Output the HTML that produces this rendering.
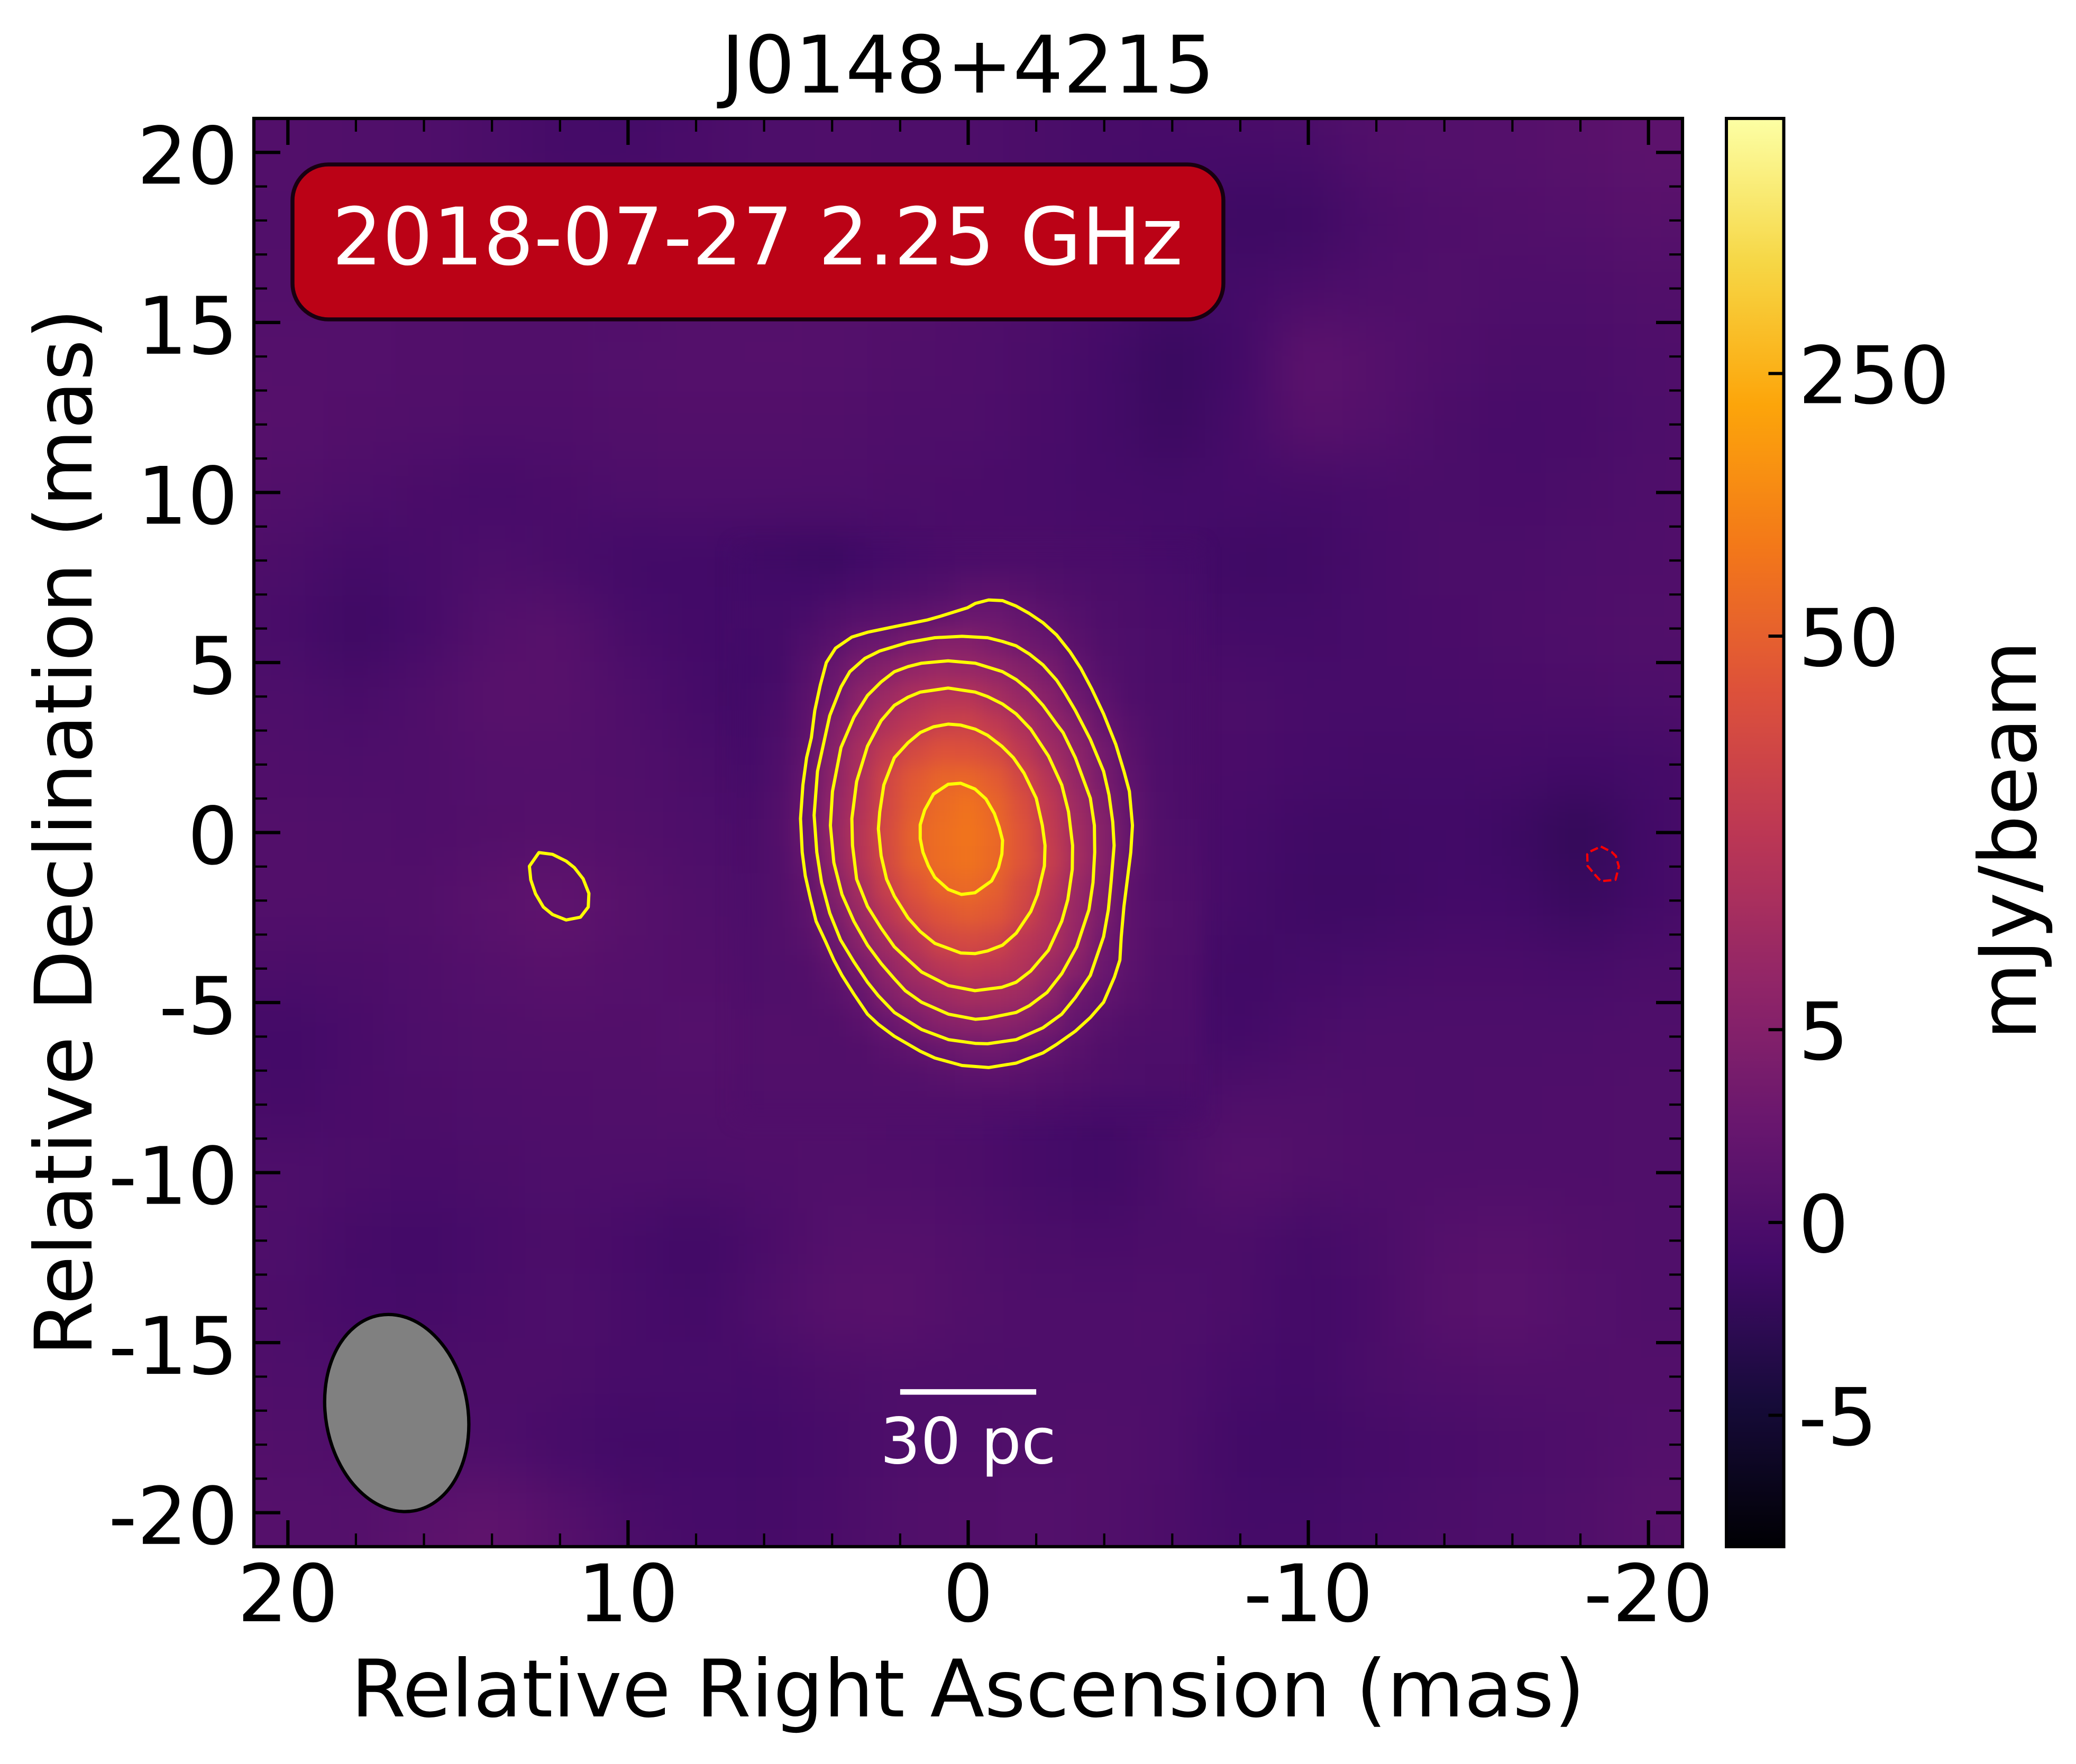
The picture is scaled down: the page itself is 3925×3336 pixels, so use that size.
<!DOCTYPE html>
<html>
<head>
<meta charset="utf-8">
<title>J0148+4215</title>
<style>
html,body{margin:0;padding:0;background:#fff;width:3925px;height:3336px;overflow:hidden}
svg{display:block}
text{font-family:"DejaVu Sans","Liberation Sans",sans-serif;fill:#000}
</style>
</head>
<body>
<svg id="chart" xmlns="http://www.w3.org/2000/svg" width="3925" height="3336" viewBox="0 0 3925 3336">
<defs>
<filter id="blurWide" color-interpolation-filters="sRGB" filterUnits="userSpaceOnUse" x="0" y="0" width="3925" height="3336"><feGaussianBlur stdDeviation="52"/></filter>
<filter id="blurNarrow" color-interpolation-filters="sRGB" filterUnits="userSpaceOnUse" x="0" y="0" width="3925" height="3336"><feGaussianBlur stdDeviation="17"/></filter>
<clipPath id="axesClip"><rect x="480" y="224" width="2701" height="2701"/></clipPath>
<linearGradient id="cbarGradient" x1="0" y1="1" x2="0" y2="0"></linearGradient>
</defs>
<g id="imageLayer" clip-path="url(#axesClip)"></g>
<g id="contourLayer"></g>
<ellipse id="beam" fill="#808080" stroke="#000" stroke-width="6.25"></ellipse>
<line id="scaleBar" stroke="#fff" stroke-width="10.5"></line>
<text id="scaleText" text-anchor="middle" font-size="120" style="fill:#fff">30 pc</text>
<rect x="553" y="311" width="1760" height="293" rx="68" ry="68" fill="#bb0216" stroke="#180010" stroke-width="7.5"></rect>
<text x="1432" y="500" text-anchor="middle" font-size="150" style="fill:#fff">2018-07-27 2.25 GHz</text>
<g id="tickLayer"></g>
<rect x="480" y="224" width="2701" height="2701" fill="none" stroke="#000" stroke-width="6.25"></rect>
<text x="1830" y="175" text-anchor="middle" font-size="150">J0148+4215</text>
<text x="1830" y="3246" text-anchor="middle" font-size="150">Relative Right Ascension (mas)</text>
<text x="0" y="0" transform="translate(173,1574) rotate(-90)" text-anchor="middle" font-size="150">Relative Declination (mas)</text>
<g id="cbarLayer"></g>
<text x="0" y="0" transform="translate(3849,1589) rotate(-90)" text-anchor="middle" font-size="150">mJy/beam</text>
</svg>
<script>
// ---- axis ticks (mas) ----
const xMajorTicks = [20, 10, 0, -10, -20];
const xMajorLabels = ["20", "10", "0", "-10", "-20"];
const xMinorTicks = [18,16,14,12,8,6,4,2,-2,-4,-6,-8,-12,-14,-16,-18];
const yMajorTicks = [20, 15, 10, 5, 0, -5, -10, -15, -20];
const yMajorLabels = ["20", "15", "10", "5", "0", "-5", "-10", "-15", "-20"];
const yMinorTicks = [19,18,17,16,14,13,12,11,9,8,7,6,4,3,2,1,-1,-2,-3,-4,-6,-7,-8,-9,-11,-12,-13,-14,-16,-17,-18,-19];
// ---- colorbar ticks (mJy/beam) ----
const cbarTickValues = [-5, 0, 5, 50, 250];
const cbarTickLabels = ["-5", "0", "5", "50", "250"];
// ---- inferno colormap anchors ----
const infernoStops = [[0,0,4],[22,11,57],[66,10,104],[106,23,110],[147,38,103],[188,55,84],[221,81,58],[243,120,25],[252,165,10],[246,215,70],[252,255,164]];
// ---- background map, mJy/beam; RA 22..-22, Dec 22..-22, in steps of 2 mas ----
const fieldRa = [22,20,18,16,14,12,10,8,6,4,2,0,-2,-4,-6,-8,-10,-12,-14,-16,-18,-20,-22];
const fieldDec = [22,20,18,16,14,12,10,8,6,4,2,0,-2,-4,-6,-8,-10,-12,-14,-16,-18,-20,-22];
const fieldValues = [
[.5,.4,.3,.2,-.3,-.8,-.9,-.4,0,.1,.1,0,-.2,-.4,-.3,0,.3,.6,.7,.8,1,1.3,1.2],
[.6,.5,.3,.2,-.2,-.7,-.7,-.3,0,.2,.1,.1,-.2,-.5,-.6,-.6,-.5,.4,.6,.7,1,1.4,1.3],
[.5,.4,.4,.3,.1,-.2,-.3,0,.2,.3,.3,.3,-.1,-.3,-.6,-1.5,-1.3,-.3,.2,.4,.6,.9,.8],
[.6,.5,.5,.5,.4,.3,.2,.4,.6,.7,.6,.3,0,-.3,-.9,-.8,-.3,.1,.3,.1,.1,.4,.5],
[.8,.7,.6,.5,.4,.4,.6,.8,.8,.7,.4,.2,-.2,-.8,-1.8,-1,1.6,.8,.2,-.2,-.2,.1,.3],
[.9,.8,.5,.3,.2,.2,.4,.5,.5,.4,.1,.1,-.3,-.8,-1.6,-.6,1,.6,-.2,-.5,-.4,0,.2],
[.6,.4,0,-.3,-.6,-.3,0,.1,.1,.1,-.1,-.3,-.5,-.7,-.8,-.6,-.8,-.4,-.2,-.4,-.2,.1,.3],
[.2,-.2,-.8,-.5,0,-.4,-1,-1,-1.2,-1.4,-.6,-.2,-.1,-.3,-.7,-1.3,-1.2,-.5,-.2,-.2,0,.2,.4],
[0,-.5,-1.4,-.6,.6,.9,-.4,-.9,-.8,-.6,0,.3,.3,0,-.4,-.8,-.8,-.5,-.3,-.1,.2,.4,.5],
[.2,0,-.4,.2,1,.9,.2,-.6,-1.3,-1.3,-.6,0,0,0,-.2,-.2,-.5,-.5,-.4,-.3,-.2,0,.2],
[.5,.2,0,.2,.6,.6,.3,-.2,-.7,-.5,0,0,0,0,-.2,-.3,-.6,-.8,-.8,-.7,-1,-.8,-.4],
[.6,.5,.3,.2,.5,.8,.5,0,-.2,0,0,0,0,0,-.2,-.6,-1.2,-1.2,-1,-1.4,-2.4,-1,-.3],
[.5,.5,.4,.5,1.2,1.9,.9,.3,0,0,0,0,0,0,0,-.7,-1.3,-1.3,-.9,-1,-1.8,-.9,-.3],
[.1,-.2,-.1,.2,.7,1,.7,.5,.3,0,0,0,0,.1,-.4,-1.2,-.8,-.5,-.3,-.3,-.5,-.2,.1],
[-.7,-1,-.4,.1,.3,.5,.5,.7,.5,.3,0,0,0,.1,-.5,-1,-.3,0,0,0,0,.2,.3],
[-.3,-.7,-.3,-.1,.1,.2,.3,.4,.5,.4,.2,.1,-.5,-.9,-.3,.3,.3,.1,0,.1,.2,.3,.4],
[.2,.1,-.2,-.4,-.2,0,.1,0,.2,.3,.2,-.1,-.7,-1.2,-.2,.9,.4,.2,.2,.2,.2,.3,.4],
[.2,0,-.7,-1,-.5,-.1,-.6,-1.2,-.3,.6,.8,.3,-.2,-.3,-.2,-.2,-.8,-.2,.7,.9,.5,.3,.3],
[.1,-.2,-.6,-.7,-.3,0,-.4,-.9,.1,.9,1,.4,.1,.1,.2,-.2,-.9,-.3,.9,1.2,.6,.3,.2],
[.3,.1,-.1,-.1,-.1,-.1,-.5,-.5,-.6,-.1,.1,.1,.1,.1,0,-.6,-.9,-.2,.2,.4,.4,.5,.5],
[.6,.4,.2,0,0,-.6,-1.1,-.9,-1,-.5,0,.2,.3,.4,0,-1.1,-1.2,-.7,-.4,-.2,.1,.6,.6],
[.9,.7,.6,1.2,1.6,.8,-.3,-.6,-.7,-.3,.3,.5,.6,.4,-.1,-.8,-.8,-.5,-.2,0,.3,.9,.9],
[1,.8,.8,1.4,1.9,1,0,-.4,-.5,-.1,.4,.5,.6,.4,0,-.6,-.5,-.3,0,.1,.4,.8,.9]
];
// ---- central source, mJy/beam; RA 6.4..-6.4, Dec 8..-8, in steps of 0.8 mas ----
const coreRa = [6.4,5.6,4.8,4,3.2,2.4,1.6,.8,0,-.8,-1.6,-2.4,-3.2,-4,-4.8,-5.6,-6.4];
const coreDec = [8,7.2,6.4,5.6,4.8,4,3.2,2.4,1.6,.8,0,-.8,-1.6,-2.4,-3.2,-4,-4.8,-5.6,-6.4,-7.2,-8];
const coreValues = [
[-1.1,-1.2,-1.3,-1.4,-1.1,-.7,-.5,-.3,-.2,-.1,-.1,-.2,-.3,-.3,-.4,-.6,-.8],
[-1,-1,-1,-.8,-.4,-.2,.1,.4,.9,1,.8,.4,.1,-.1,-.2,-.4,-.5],
[-.8,-.8,-.5,.2,.7,1,1.4,1.85,2.6,2.6,2,1.2,.6,.1,-.1,-.3,-.4],
[-.9,-.7,.1,.9,2.3,2.9,3.9,5,5,4,3,2.3,1.1,.3,0,-.2,-.3],
[-1,-.7,.6,2.3,4.1,5.5,8,9.5,9,7.6,5.2,3.8,2,.7,.1,-.2,-.3],
[-.8,-.4,1,2.9,6.5,10.8,15.5,19,19,13.5,9,5.5,3,1.3,.2,-.1,-.2],
[-.7,-.2,1.3,4.5,9.8,16.5,22,28,29,23,15.5,8.5,4.6,2.2,.8,0,-.2],
[-.6,0,1.6,5.5,14,24,34,41,40,35,22,12,6.5,3.4,1.1,.1,-.2],
[-.5,.2,2,6.5,15.5,32,45,57,60,47,32,18.5,8.4,3.8,1.5,.2,-.1],
[-.3,.4,2.2,7.6,17,33,48,66,80,58,38,23,10.7,4.6,1.9,.3,-.1],
[-.2,.5,2.3,8.1,18.6,35,55,72,85,64,42,25,12.4,5.2,2,.4,0],
[-.1,.4,2.1,7.2,18,34,53,71,82,63,42,27,13,5.3,1.8,.5,.1],
[0,.4,1.6,4.9,13.5,28,42,57,66,50,35,22,10,4.5,1.4,.5,.2],
[0,.4,1.3,3.9,10,20.5,34,43,48,44,32,18,9,4,1.4,.6,.3],
[.1,.4,.9,2.6,6.2,12.7,20.5,32,35,32,21,16,8,3.2,1.4,.5,.3],
[.1,.3,.5,1.5,3.8,7.6,13.6,19.5,23,21,17.5,10.5,5.4,2.6,1.2,.4,.2],
[.2,.3,.4,.9,2.1,4.6,7.9,11,13.6,13,10.7,6.3,3,1.9,.9,.3,.2],
[.4,.5,.4,.5,1.1,2.4,4,5.6,6.6,6.8,5.5,3.8,2,.9,.4,.2,.1],
[.4,.5,.5,.4,.5,1,1.7,2.3,3.1,3.2,2.5,1.8,1,.4,.1,0,0],
[.3,.4,.4,.4,.4,.5,.6,.9,1.2,1.3,1.1,.8,.5,.2,0,-.1,-.1],
[.2,.3,.3,.3,.3,.3,.3,.3,.3,.2,.1,-.1,-.3,-.5,-.5,-.5,-.4]
];
// ---- contour vertices, [RA, Dec] in mas ----
const contourLevel1 = [[-.60,6.84],[-1.01,6.82],[-1.41,6.66],[-1.80,6.44],[-2.20,6.17],[-2.60,5.81],[-2.99,5.32],[-3.31,4.83],[-3.63,4.23],[-3.98,3.49],[-4.34,2.59],[-4.58,1.80],[-4.74,1.21],[-4.83,.21],[-4.78,-.58],[-4.68,-1.37],[-4.58,-2.17],[-4.50,-3.06],[-4.46,-3.75],[-4.30,-4.25],[-3.98,-4.99],[-3.59,-5.44],[-3.15,-5.84],[-2.60,-6.23],[-2.20,-6.48],[-1.41,-6.78],[-.60,-6.91],[.18,-6.85],[.98,-6.63],[1.41,-6.43],[2.17,-5.99],[2.64,-5.64],[2.96,-5.34],[3.36,-4.75],[3.71,-4.20],[3.95,-3.75],[4.19,-3.21],[4.47,-2.61],[4.63,-1.97],[4.79,-1.27],[4.88,-.58],[4.93,.41],[4.86,1.40],[4.75,2.20],[4.61,2.79],[4.51,3.59],[4.35,4.33],[4.17,5.00],[3.90,5.42],[3.42,5.75],[2.96,5.89],[2.09,6.07],[1.21,6.25],[.82,6.36],[.02,6.61],[-.21,6.74]];
const contourLevel2 = [[.18,5.77],[-.57,5.73],[-1.01,5.62],[-1.41,5.49],[-1.80,5.25],[-2.20,4.93],[-2.60,4.48],[-2.83,4.13],[-3.15,3.59],[-3.59,2.74],[-3.98,1.80],[-4.14,1.11],[-4.25,.31],[-4.29,-.38],[-4.20,-1.47],[-4.12,-2.27],[-3.98,-3.06],[-3.59,-4.20],[-3.15,-4.85],[-2.75,-5.34],[-2.20,-5.74],[-1.41,-6.09],[-.57,-6.21],[-.21,-6.20],[.58,-6.09],[1.37,-5.79],[2.17,-5.29],[2.64,-4.80],[2.96,-4.40],[3.36,-3.80],[3.75,-3.16],[4.07,-2.37],[4.31,-1.47],[4.45,-.58],[4.53,.51],[4.43,1.80],[4.19,2.89],[4.07,3.44],[3.74,4.28],[3.48,4.73],[3.04,5.12],[2.60,5.34],[1.77,5.59],[.98,5.73]];
const contourLevel3 = [[.59,5.05],[-.21,4.98],[-1.01,4.73],[-1.41,4.50],[-1.80,4.18],[-2.20,3.74],[-2.60,3.19],[-2.79,2.94],[-3.15,2.20],[-3.59,1.01],[-3.71,.21],[-3.72,-.58],[-3.67,-1.47],[-3.55,-2.27],[-3.19,-3.36],[-2.75,-4.15],[-2.32,-4.70],[-1.80,-5.09],[-1.41,-5.29],[-.57,-5.46],[-.21,-5.49],[.58,-5.34],[1.37,-4.99],[1.85,-4.65],[2.17,-4.30],[2.56,-3.85],[2.96,-3.31],[3.36,-2.61],[3.71,-1.82],[3.95,-.88],[4.05,.21],[3.99,1.21],[3.74,2.50],[3.36,3.39],[2.96,4.03],[2.56,4.43],[2.17,4.73],[1.77,4.88],[1.37,4.98]];
const contourLevel4 = [[.59,4.25],[-.21,4.13],[-.57,4.00],[-1.01,3.78],[-1.41,3.49],[-1.84,3.04],[-2.36,2.25],[-2.75,1.40],[-2.95,.61],[-3.07,-.38],[-3.06,-1.08],[-2.93,-1.97],[-2.75,-2.61],[-2.36,-3.46],[-1.84,-4.07],[-1.41,-4.40],[-.99,-4.55],[-.20,-4.65],[.58,-4.50],[1.37,-4.10],[1.81,-3.70],[2.17,-3.36],[2.56,-2.81],[2.96,-2.17],[3.28,-1.37],[3.40,-.38],[3.42,.41],[3.28,1.50],[2.96,2.54],[2.56,3.29],[2.17,3.74],[1.77,3.98],[1.41,4.13]];
const contourLevel5 = [[.59,3.19],[.22,3.16],[-.21,3.04],[-.57,2.86],[-.99,2.54],[-1.33,2.20],[-1.64,1.75],[-2.00,1.01],[-2.18,.21],[-2.26,-.38],[-2.24,-.98],[-2.04,-1.82],[-1.84,-2.32],[-1.41,-2.96],[-1.01,-3.31],[-.57,-3.48],[-.20,-3.56],[.22,-3.54],[.98,-3.26],[1.41,-2.91],[1.77,-2.51],[2.17,-1.87],[2.40,-1.37],[2.56,-.68],[2.64,.11],[2.60,.61],[2.48,1.40],[2.17,2.20],[1.77,2.64],[1.41,2.94],[1.02,3.11]];
const contourLevel6 = [[.59,1.42],[.22,1.45],[-.20,1.28],[-.52,.99],[-.77,.56],[-.91,.16],[-1.01,-.23],[-.99,-.63],[-.89,-1.03],[-.69,-1.42],[-.20,-1.77],[.20,-1.82],[.59,-1.67],[.98,-1.32],[1.17,-.98],[1.33,-.58],[1.41,-.18],[1.41,.23],[1.28,.66],[1.02,1.13]];
const contourIsland = [[12.62,-.59],[12.22,-.64],[11.82,-.84],[11.58,-1.03],[11.32,-1.36],[11.15,-1.79],[11.17,-2.19],[11.40,-2.49],[11.82,-2.57],[12.22,-2.41],[12.49,-2.19],[12.72,-1.80],[12.86,-1.39],[12.90,-.99]];
const contourNegative = [[-18.60,-.41],[-18.92,-.57],[-19.04,-.69],[-19.13,-1.00],[-19.03,-1.39],[-18.60,-1.43],[-18.40,-1.21],[-18.21,-.98],[-18.20,-.64],[-18.28,-.56]];
// ---- beam (mas, deg) and scale bar (mas) ----
const beamCenter = [16.8, -17.07];
const beamMajor = 5.84;
const beamMinor = 4.18;
const beamAngle = 10;
const scaleBarRange = [2, -2];
const scaleBarDec = -16.45;

// axis functions
const AX = {l: 480, r: 3181, t: 224, b: 2925, lim: 21};
const PX = (AX.r - AX.l) / (2 * AX.lim);
function X(ra) { return AX.l + (AX.lim - ra) * PX; }
function Y(dec) { return AX.t + (AX.lim - dec) * PX; }
const CB = {l: 3264, r: 3372.5, t: 224, b: 2925};
function norm(v) {
  if (v <= 5) return Math.max(0, .227 + .027 * v);
  if (v <= 50) return .227 + .135 * Math.pow(v / 5, .483);
  return Math.min(1, .227 + .4105 * Math.pow(v / 50, .23));
}
function CY(v) { return CB.b - norm(v) * (CB.b - CB.t); }
function color(t) {
  const p = Math.min(.9999, Math.max(0, t)) * (infernoStops.length - 1);
  const i = Math.floor(p), f = p - i;
  const a = infernoStops[i], b = infernoStops[i + 1];
  return 'rgb(' + [0, 1, 2].map(k => Math.round(a[k] + (b[k] - a[k]) * f)).join(',') + ')';
}
const NS = 'http://www.w3.org/2000/svg';
function make(tag, attrs, parent) {
  const n = document.createElementNS(NS, tag);
  for (const k in attrs) n.setAttribute(k, attrs[k]);
  parent.appendChild(n);
  return n;
}
const imageLayer = document.getElementById('imageLayer');
const contourLayer = document.getElementById('contourLayer');
const tickLayer = document.getElementById('tickLayer');
const cbarLayer = document.getElementById('cbarLayer');

function drawGrid(ras, decs, values, filterId, name) {
  const g = make('g', {filter: 'url(#' + filterId + ')', 'shape-rendering': 'crispEdges'}, imageLayer);
  
  
  const dRa = Math.abs(ras[1] - ras[0]), dDec = Math.abs(decs[1] - decs[0]);
  decs.forEach((dec, j) => {
    ras.forEach((ra, i) => {
      const x0 = X(ra + dRa / 2), y0 = Y(dec + dDec / 2);
      const r = make('rect', {x: x0, y: y0, width: dRa * PX + 1, height: dDec * PX + 1, fill: color(norm(values[j][i]))}, g);
      
      
    });
  });
}
drawGrid(fieldRa, fieldDec, fieldValues, 'blurWide', 'background-noise-cells');
drawGrid(coreRa, coreDec, coreValues, 'blurNarrow', 'core-source-cells');

function drawContour(points, stroke, width, dash, name) {
  const d = points.map(p => X(p[0]).toFixed(1) + ',' + Y(p[1]).toFixed(1)).join(' ');
  const attrs = {points: d, fill: 'none', stroke: stroke, 'stroke-width': width, 'stroke-linejoin': 'round'};
  if (dash) attrs['stroke-dasharray'] = dash;
  const c = make('polygon', attrs, contourLayer);
  
  
}
drawContour(contourLevel1, '#ffff00', 6, null, 'contour-level-1');
drawContour(contourLevel2, '#ffff00', 6, null, 'contour-level-2');
drawContour(contourLevel3, '#ffff00', 6, null, 'contour-level-3');
drawContour(contourLevel4, '#ffff00', 6, null, 'contour-level-4');
drawContour(contourLevel5, '#ffff00', 6, null, 'contour-level-5');
drawContour(contourLevel6, '#ffff00', 6, null, 'contour-level-6');
drawContour(contourIsland, '#ffff00', 6, null, 'contour-island');
drawContour(contourNegative, '#ff0000', 4.2, '15.4 6.7', 'contour-negative');

// beam
const beam = document.getElementById('beam');
const bx = X(beamCenter[0]), by = Y(beamCenter[1]);
beam.setAttribute('cx', bx);
beam.setAttribute('cy', by);
beam.setAttribute('rx', beamMinor / 2 * PX);
beam.setAttribute('ry', beamMajor / 2 * PX);
beam.setAttribute('transform', 'rotate(' + (-beamAngle) + ' ' + bx + ' ' + by + ')');

// scale bar
const sb = document.getElementById('scaleBar');
sb.setAttribute('x1', X(scaleBarRange[0]));
sb.setAttribute('x2', X(scaleBarRange[1]));
sb.setAttribute('y1', Y(scaleBarDec));
sb.setAttribute('y2', Y(scaleBarDec));
const st = document.getElementById('scaleText');
st.setAttribute('x', X(0));
st.setAttribute('y', Y(scaleBarDec) + 135);

// ticks
function line(x1, y1, x2, y2, w, name, parent) {
  const l = make('line', {x1: x1, y1: y1, x2: x2, y2: y2, stroke: '#000', 'stroke-width': w}, parent);
  
  
}
const MAJ = 50, MIN = 25, WMAJ = 6.25, WMIN = 4.2;
xMajorTicks.forEach((v, i) => {
  line(X(v), AX.b, X(v), AX.b - MAJ, WMAJ, 'x-major-tick', tickLayer);
  line(X(v), AX.t, X(v), AX.t + MAJ, WMAJ, 'x-major-tick-top', tickLayer);
  const t = make('text', {x: X(v), y: 3066, 'text-anchor': 'middle', 'font-size': 150}, tickLayer);
  
  
  t.textContent = xMajorLabels[i];
});
xMinorTicks.forEach(v => {
  line(X(v), AX.b, X(v), AX.b - MIN, WMIN, 'x-minor-tick', tickLayer);
  line(X(v), AX.t, X(v), AX.t + MIN, WMIN, 'x-minor-tick-top', tickLayer);
});
yMajorTicks.forEach((v, i) => {
  line(AX.l, Y(v), AX.l + MAJ, Y(v), WMAJ, 'y-major-tick', tickLayer);
  line(AX.r, Y(v), AX.r - MAJ, Y(v), WMAJ, 'y-major-tick-right', tickLayer);
  const t = make('text', {x: 450, y: Y(v) + 59, 'text-anchor': 'end', 'font-size': 150}, tickLayer);
  
  
  t.textContent = yMajorLabels[i];
});
yMinorTicks.forEach(v => {
  line(AX.l, Y(v), AX.l + MIN, Y(v), WMIN, 'y-minor-tick', tickLayer);
  line(AX.r, Y(v), AX.r - MIN, Y(v), WMIN, 'y-minor-tick-right', tickLayer);
});

// colorbar
const grad = document.getElementById('cbarGradient');
for (let s = 0; s <= 40; s++) {
  const stop = make('stop', {offset: s / 40, 'stop-color': color(s / 40)}, grad);
}
const cbarRect = make('rect', {x: CB.l, y: CB.t, width: CB.r - CB.l, height: CB.b - CB.t, fill: 'url(#cbarGradient)', stroke: '#000', 'stroke-width': 6}, cbarLayer);


cbarTickValues.forEach((v, i) => {
  line(CB.r, CY(v), CB.r - 29, CY(v), 6, 'colorbar-tick', cbarLayer);
  const t = make('text', {x: 3400, y: CY(v) + 56, 'font-size': 150}, cbarLayer);
  
  
  t.textContent = cbarTickLabels[i];
});
</script>
</body>
</html>
